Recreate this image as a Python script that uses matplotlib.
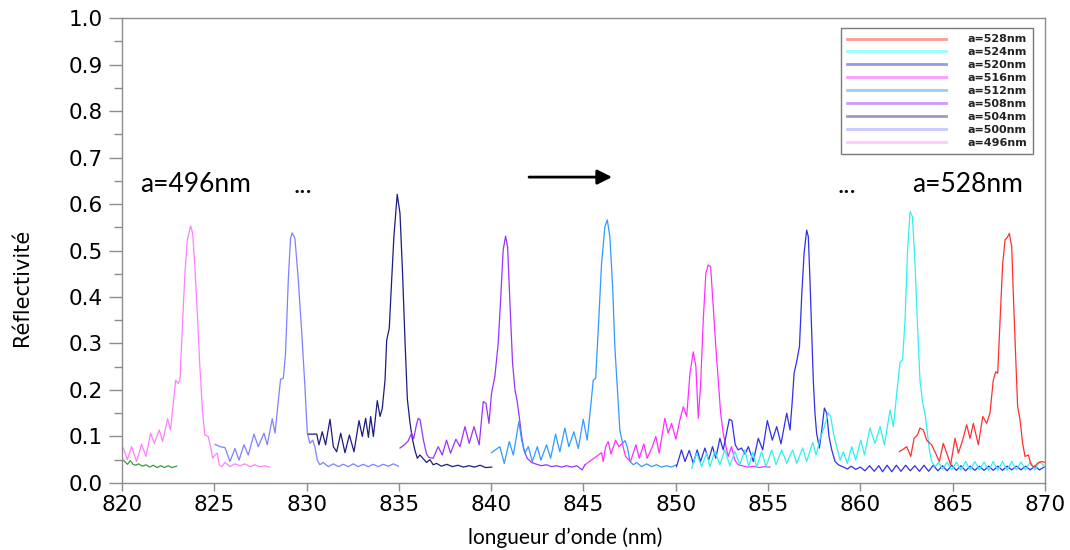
import matplotlib
matplotlib.use("Agg")
import matplotlib.pyplot as plt
from matplotlib.ticker import MultipleLocator, FormatStrFormatter
from matplotlib.lines import Line2D

# ---------------- data ----------------
labels = ["a=528nm", "a=524nm", "a=520nm", "a=516nm", "a=512nm",
          "a=508nm", "a=504nm", "a=500nm", "a=496nm"]

wl_496 = [820.07, 820.29, 820.52, 820.79, 821.06, 821.30, 821.55, 821.75, 822.02, 822.20,
          822.47, 822.63, 822.91, 823.05, 823.14, 823.28, 823.41, 823.54, 823.72, 823.83,
          823.95, 824.08, 824.22, 824.37, 824.49, 824.67, 824.80, 824.91, 825.04, 825.16,
          825.27, 825.40, 825.58, 825.85, 826.12, 826.39, 826.66, 826.93, 827.20, 827.47,
          827.74, 827.98]
r_496 = [0.075, 0.050, 0.078, 0.046, 0.083, 0.057, 0.107, 0.085, 0.114, 0.089,
         0.138, 0.114, 0.221, 0.214, 0.221, 0.343, 0.451, 0.523, 0.553, 0.537,
         0.465, 0.365, 0.250, 0.150, 0.103, 0.100, 0.078, 0.053, 0.060, 0.064,
         0.039, 0.035, 0.044, 0.035, 0.041, 0.037, 0.041, 0.035, 0.039, 0.035,
         0.037, 0.034]

wl_500 = [825.04, 825.31, 825.58, 825.85, 826.12, 826.34, 826.61, 826.84, 827.15, 827.38,
          827.69, 827.87, 828.14, 828.29, 828.59, 828.74, 828.86, 829.01, 829.13, 829.22,
          829.37, 829.55, 829.73, 829.91, 830.04, 830.18, 830.33, 830.45, 830.58, 830.72,
          830.90, 831.18, 831.45, 831.72, 831.99, 832.26, 832.53, 832.80, 833.07, 833.34,
          833.61, 833.88, 834.15, 834.43, 834.70, 834.97]
r_500 = [0.083, 0.078, 0.076, 0.046, 0.074, 0.049, 0.082, 0.060, 0.105, 0.078,
         0.107, 0.082, 0.138, 0.107, 0.223, 0.225, 0.279, 0.437, 0.526, 0.538,
         0.526, 0.437, 0.329, 0.207, 0.107, 0.085, 0.092, 0.078, 0.049, 0.039,
         0.044, 0.035, 0.041, 0.035, 0.040, 0.035, 0.041, 0.035, 0.040, 0.035,
         0.040, 0.035, 0.040, 0.036, 0.041, 0.036]

wl_504 = [830.10, 830.55, 830.67, 830.85, 831.03, 831.27, 831.45, 831.63, 831.85, 832.08,
          832.32, 832.57, 832.84, 833.02, 833.20, 833.35, 833.47, 833.62, 833.83, 833.98,
          834.10, 834.25, 834.34, 834.48, 834.61, 834.73, 834.91, 835.06, 835.20, 835.33,
          835.46, 835.60, 835.73, 835.87, 836.00, 836.14, 836.32, 836.50, 836.68, 836.86,
          837.04, 837.30, 837.60, 837.90, 838.20, 838.50, 838.80, 839.10, 839.40, 839.70,
          840.03]
r_504 = [0.105, 0.105, 0.082, 0.110, 0.082, 0.137, 0.078, 0.067, 0.107, 0.065,
         0.103, 0.067, 0.134, 0.100, 0.139, 0.098, 0.143, 0.100, 0.177, 0.143,
         0.160, 0.221, 0.307, 0.333, 0.437, 0.530, 0.621, 0.580, 0.451, 0.307,
         0.180, 0.130, 0.095, 0.070, 0.053, 0.060, 0.052, 0.044, 0.050, 0.039,
         0.042, 0.036, 0.040, 0.035, 0.038, 0.034, 0.037, 0.034, 0.038, 0.033,
         0.034]

wl_508 = [835.06, 835.30, 835.50, 835.69, 835.80, 835.95, 836.05, 836.15, 836.33, 836.50,
          836.62, 836.86, 837.13, 837.35, 837.58, 837.80, 838.09, 838.31, 838.58, 838.81,
          839.07, 839.35, 839.57, 839.72, 839.88, 840.02, 840.20, 840.38, 840.51, 840.65,
          840.78, 840.89, 841.01, 841.16, 841.29, 841.41, 841.52, 841.65, 841.77, 841.95,
          842.19, 842.46, 842.73, 843.00, 843.27, 843.54, 843.81, 844.09, 844.36, 844.63,
          844.93, 845.08]
r_508 = [0.075, 0.082, 0.090, 0.107, 0.095, 0.125, 0.139, 0.136, 0.092, 0.062,
         0.055, 0.053, 0.078, 0.060, 0.092, 0.064, 0.094, 0.078, 0.121, 0.085,
         0.121, 0.082, 0.175, 0.171, 0.128, 0.193, 0.229, 0.300, 0.393, 0.501,
         0.531, 0.508, 0.393, 0.257, 0.200, 0.175, 0.143, 0.100, 0.071, 0.053,
         0.044, 0.040, 0.037, 0.039, 0.035, 0.037, 0.034, 0.037, 0.034, 0.037,
         0.028, 0.039]

wl_512 = [840.02, 840.26, 840.47, 840.71, 840.98, 841.20, 841.38, 841.50, 841.65, 841.83,
          842.01, 842.23, 842.50, 842.69, 843.00, 843.22, 843.49, 843.72, 843.99, 844.21,
          844.48, 844.72, 844.99, 845.20, 845.39, 845.53, 845.66, 845.80, 845.98, 846.16,
          846.29, 846.43, 846.58, 846.70, 846.83, 846.97, 847.12, 847.25, 847.37, 847.52,
          847.70, 847.88, 848.15, 848.42, 848.69, 848.96, 849.23, 849.50, 849.77, 850.04]
r_512 = [0.065, 0.072, 0.078, 0.042, 0.089, 0.060, 0.103, 0.132, 0.092, 0.064,
         0.078, 0.046, 0.078, 0.049, 0.082, 0.053, 0.105, 0.067, 0.118, 0.078,
         0.110, 0.074, 0.137, 0.092, 0.164, 0.221, 0.225, 0.329, 0.472, 0.551,
         0.566, 0.530, 0.422, 0.293, 0.207, 0.114, 0.085, 0.091, 0.078, 0.046,
         0.039, 0.044, 0.035, 0.041, 0.035, 0.039, 0.034, 0.037, 0.034, 0.039]

wl_516 = [845.08, 845.98, 846.07, 846.20, 846.34, 846.49, 846.74, 846.92, 847.10, 847.28,
          847.55, 847.84, 848.02, 848.27, 848.45, 848.73, 848.92, 849.10, 849.41, 849.59,
          849.77, 850.01, 850.22, 850.41, 850.59, 850.77, 850.95, 851.09, 851.22, 851.34,
          851.49, 851.63, 851.76, 851.89, 852.03, 852.17, 852.30, 852.43, 852.57, 852.72,
          852.84, 853.02, 853.20, 853.38, 853.60, 853.90, 854.20, 854.50, 854.80, 855.10]
r_516 = [0.039, 0.065, 0.046, 0.078, 0.089, 0.062, 0.092, 0.078, 0.085, 0.057,
         0.046, 0.082, 0.053, 0.084, 0.053, 0.078, 0.100, 0.064, 0.139, 0.107,
         0.128, 0.094, 0.135, 0.164, 0.143, 0.236, 0.282, 0.250, 0.139, 0.207,
         0.351, 0.451, 0.469, 0.465, 0.379, 0.293, 0.222, 0.150, 0.107, 0.078,
         0.057, 0.078, 0.049, 0.039, 0.037, 0.034, 0.036, 0.033, 0.035, 0.034]

wl_520 = [850.04, 850.31, 850.50, 850.73, 850.95, 851.16, 851.34, 851.58, 851.78, 851.99,
          852.17, 852.39, 852.57, 852.90, 853.04, 853.22, 853.38, 853.56, 853.75, 853.93,
          854.20, 854.47, 854.71, 854.96, 855.23, 855.47, 855.70, 856.01, 856.19, 856.30,
          856.41, 856.55, 856.70, 856.82, 856.95, 857.09, 857.18, 857.27, 857.36, 857.45,
          857.54, 857.63, 857.78, 857.91, 858.05, 858.18, 858.30, 858.45, 858.63, 858.81,
          859.08, 859.30, 859.50, 859.75, 860.00, 860.25, 860.50, 860.75, 861.00, 861.20,
          861.45, 861.70, 861.95, 862.20, 862.45, 862.70, 862.95, 863.20, 863.45, 863.70,
          863.95, 864.20, 864.45, 864.70, 864.95, 865.20, 865.45, 865.70, 865.95, 866.20,
          866.45, 866.70, 866.95, 867.20, 867.45, 867.70, 867.95, 868.20, 868.45, 868.70,
          868.95, 869.20, 869.45, 869.70, 870.00]
r_520 = [0.035, 0.071, 0.046, 0.070, 0.042, 0.071, 0.046, 0.075, 0.049, 0.078,
         0.053, 0.096, 0.071, 0.137, 0.134, 0.082, 0.071, 0.075, 0.062, 0.078,
         0.046, 0.096, 0.071, 0.134, 0.092, 0.121, 0.084, 0.150, 0.114, 0.170,
         0.236, 0.261, 0.293, 0.401, 0.494, 0.544, 0.530, 0.437, 0.329, 0.221,
         0.150, 0.107, 0.075, 0.114, 0.161, 0.150, 0.100, 0.071, 0.046, 0.039,
         0.034, 0.030, 0.036, 0.029, 0.034, 0.026, 0.037, 0.025, 0.037, 0.024,
         0.038, 0.024, 0.038, 0.025, 0.038, 0.026, 0.037, 0.025, 0.038, 0.025,
         0.038, 0.026, 0.037, 0.026, 0.038, 0.027, 0.037, 0.026, 0.036, 0.027,
         0.036, 0.027, 0.036, 0.027, 0.036, 0.027, 0.036, 0.028, 0.036, 0.028,
         0.036, 0.028, 0.036, 0.028, 0.035]

wl_524 = [850.86, 851.13, 851.40, 851.67, 851.85, 852.12, 852.39, 852.66, 852.93, 853.20,
          853.47, 853.74, 853.95, 854.18, 854.38, 854.65, 854.89, 855.20, 855.43, 855.74,
          856.01, 856.33, 856.55, 856.87, 857.09, 857.42, 857.60, 857.85, 858.03, 858.27,
          858.39, 858.54, 858.72, 858.90, 859.08, 859.29, 859.53, 859.75, 860.02, 860.22,
          860.52, 860.79, 861.07, 861.30, 861.61, 861.79, 861.97, 862.15, 862.29, 862.42,
          862.55, 862.69, 862.82, 862.96, 863.09, 863.23, 863.38, 863.50, 863.63, 863.74,
          863.86, 864.05, 864.23, 864.45, 864.70, 864.95, 865.20, 865.45, 865.70, 865.95,
          866.20, 866.45, 866.70, 866.95, 867.20, 867.45, 867.70, 867.95, 868.20, 868.45,
          868.70, 868.95, 869.20, 869.45, 869.70, 870.00]
r_524 = [0.031, 0.064, 0.035, 0.064, 0.035, 0.068, 0.039, 0.071, 0.037, 0.068,
         0.039, 0.071, 0.036, 0.066, 0.034, 0.067, 0.035, 0.071, 0.039, 0.071,
         0.042, 0.071, 0.042, 0.075, 0.046, 0.087, 0.060, 0.100, 0.118, 0.150,
         0.143, 0.107, 0.078, 0.049, 0.067, 0.042, 0.078, 0.049, 0.092, 0.060,
         0.118, 0.085, 0.121, 0.082, 0.157, 0.121, 0.193, 0.259, 0.265, 0.351,
         0.494, 0.584, 0.573, 0.472, 0.343, 0.221, 0.171, 0.150, 0.107, 0.071,
         0.046, 0.035, 0.044, 0.030, 0.044, 0.028, 0.045, 0.028, 0.046, 0.028,
         0.046, 0.028, 0.045, 0.027, 0.046, 0.027, 0.046, 0.027, 0.046, 0.028,
         0.045, 0.028, 0.045, 0.028, 0.046, 0.035]

wl_528 = [862.11, 862.30, 862.51, 862.73, 862.91, 863.09, 863.23, 863.41, 863.59, 863.86,
          864.04, 864.28, 864.49, 864.68, 864.89, 865.13, 865.31, 865.54, 865.76, 865.94,
          866.12, 866.39, 866.63, 866.84, 867.02, 867.20, 867.33, 867.44, 867.57, 867.71,
          867.84, 867.96, 868.07, 868.20, 868.29, 868.42, 868.52, 868.65, 868.79, 868.92,
          869.10, 869.25, 869.41, 869.59, 869.82, 870.00]
r_528 = [0.067, 0.072, 0.078, 0.057, 0.096, 0.103, 0.118, 0.114, 0.092, 0.082,
         0.067, 0.046, 0.085, 0.064, 0.039, 0.096, 0.064, 0.092, 0.125, 0.096,
         0.128, 0.082, 0.143, 0.128, 0.150, 0.221, 0.239, 0.236, 0.351, 0.472,
         0.523, 0.528, 0.537, 0.508, 0.401, 0.265, 0.164, 0.136, 0.085, 0.057,
         0.060, 0.039, 0.034, 0.042, 0.046, 0.044]

wl_extra = [820.07, 820.20, 820.30, 820.45, 820.60, 820.75, 820.90, 821.10, 821.30, 821.50,
            821.70, 821.90, 822.10, 822.30, 822.50, 822.70, 822.96]
r_extra = [0.049, 0.044, 0.040, 0.048, 0.040, 0.038, 0.041, 0.036, 0.039, 0.034,
           0.038, 0.033, 0.037, 0.033, 0.037, 0.033, 0.036]

colors = ["#ff3030", "#30f0f0", "#3030e8", "#ff30ff", "#3399ff",
          "#9933ff", "#1c1c80", "#8080ff", "#ff80ff"]
legend_colors = ["#ff9898", "#98ffff", "#9898e8", "#ff98ff", "#98ccff",
                 "#cc98ff", "#9a9ac8", "#c8c8ff", "#ffc8ff"]

series_x = [wl_528, wl_524, wl_520, wl_516, wl_512, wl_508, wl_504, wl_500, wl_496]
series_y = [r_528, r_524, r_520, r_516, r_512, r_508, r_504, r_500, r_496]

# ---------------- figure ----------------
fig = plt.figure(figsize=(10.7, 5.5), dpi=100)
ax = fig.add_axes([0.114, 0.122, 0.8626, 0.845])

ax.plot(wl_extra, r_extra, color="#3c9a3c", lw=0.9)
for xs, ys, c in zip(series_x[::-1], series_y[::-1], colors[::-1]):
    ax.plot(xs, ys, color=c, lw=0.9)

ax.set_xlim(820, 870)
ax.set_ylim(0, 1.0)
ax.xaxis.set_major_locator(MultipleLocator(5))
ax.yaxis.set_major_locator(MultipleLocator(0.1))
ax.yaxis.set_minor_locator(MultipleLocator(0.05))
ax.yaxis.set_major_formatter(FormatStrFormatter("%.1f"))

for sp in ax.spines.values():
    sp.set_color("#8c8c8c")
    sp.set_linewidth(1.0)

tick_font = "DejaVu Sans"
ax.tick_params(axis="y", which="major", direction="out", length=9.5, width=1,
               color="#8c8c8c", labelsize=15.5, pad=4)
ax.tick_params(axis="y", which="minor", direction="out", length=5.5, width=1,
               color="#8c8c8c")
ax.tick_params(axis="x", which="major", direction="out", length=6, width=1,
               color="#8c8c8c", labelsize=15.5, pad=3)
for lab in ax.get_xticklabels() + ax.get_yticklabels():
    lab.set_fontfamily(tick_font)

ax.set_xlabel("longueur d\u2019onde (nm)", fontsize=15, fontfamily="Lato")
ax.xaxis.set_label_coords(0.48, -0.095)
ax.set_ylabel("Réflectivité", fontsize=15, fontfamily="DejaVu Sans")
ax.yaxis.set_label_coords(-0.097, 0.42)

# annotations
ax.text(820.98, 0.641, "a=496nm", fontsize=19, fontfamily="Lato", va="center", ha="left")
ax.text(829.8, 0.64, "...", fontsize=19, fontfamily="Lato", va="center", ha="center")
ax.text(859.27, 0.64, "...", fontsize=19, fontfamily="Lato", va="center", ha="center")
ax.text(862.8, 0.641, "a=528nm", fontsize=19, fontfamily="Lato", va="center", ha="left")
ax.annotate("", xy=(846.7, 0.658), xytext=(841.9, 0.658),
            arrowprops=dict(arrowstyle="-|>", color="black", lw=2, mutation_scale=22))

handles = [Line2D([], [], color=c, lw=2) for c in legend_colors]
leg = ax.legend(handles, labels, loc="upper right", bbox_to_anchor=(0.987, 0.978),
                borderaxespad=0, fancybox=False, framealpha=1, edgecolor="#7a7a7a",
                prop={"family": "DejaVu Sans", "weight": "bold", "size": 8},
                labelspacing=0.26, handlelength=8.9, handletextpad=1.9,
                borderpad=0.55)
leg.get_frame().set_linewidth(1.0)
for t in leg.get_texts():
    t.set_color("#222222")

fig.savefig("out.png", dpi=100)
